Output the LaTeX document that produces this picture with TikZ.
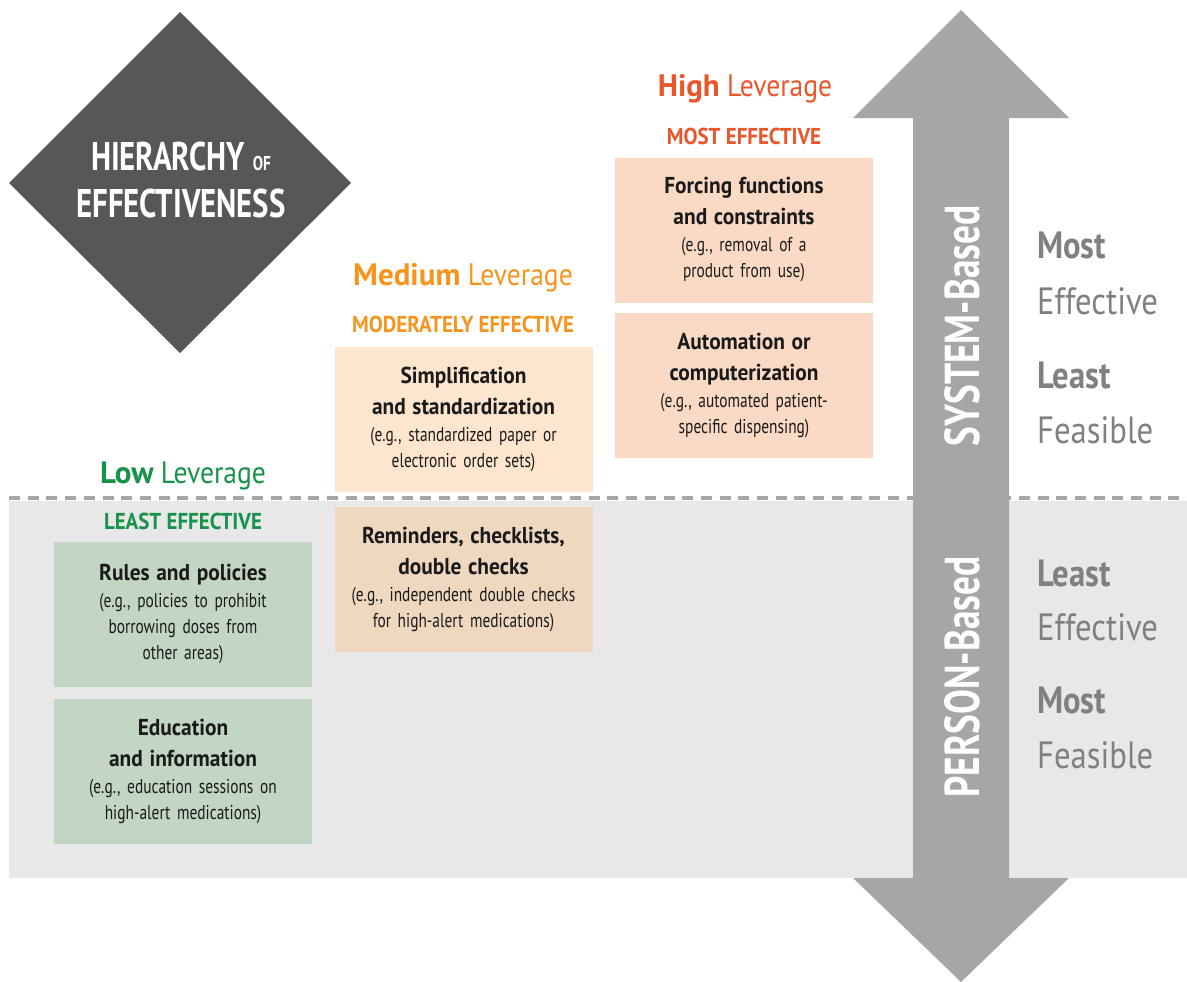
\documentclass[tikz,border=0pt]{standalone}
\usepackage{fontspec}
\setmainfont{PT Sans}[FakeStretch=0.77]
\newfontfamily\fR{PT Sans}[FakeStretch=0.77]
\newfontfamily\fB{PT Sans}[FakeStretch=0.93]
\newfontfamily\fE{PT Sans}[FakeStretch=0.91]
\newfontfamily\fH{PT Sans}[FakeStretch=1.0]
\newfontfamily\fL{PT Sans}[FakeStretch=0.89]
\newfontfamily\fV{PT Sans}[FakeStretch=0.76]
\newfontfamily\fS{PT Sans}[FakeStretch=0.86]
\definecolor{diam}{HTML}{575757}
\definecolor{hiC}{HTML}{E8562A}
\definecolor{medC}{HTML}{F7941D}
\definecolor{lowC}{HTML}{17924A}
\definecolor{peach}{HTML}{FAD9C5}
\definecolor{cream}{HTML}{FEE5CE}
\definecolor{tan}{HTML}{EFD7C0}
\definecolor{sage}{HTML}{C3D5C3}
\definecolor{bgG}{HTML}{E8E8E8}
\definecolor{arrC}{HTML}{A6A6A6}
\definecolor{lblC}{HTML}{808080}
\definecolor{txtC}{HTML}{1A1A1A}
\tikzset{
  card/.style={minimum width=258pt, minimum height=145pt, inner xsep=4pt, inner ysep=0pt,
    text width=250pt, align=center, text=txtC, font=\fR\fontsize{20}{26}\selectfont},
  lev/.style={anchor=base, inner sep=0pt, font=\fL\fontsize{31}{32}\selectfont},
  eff/.style={anchor=base, inner sep=0pt, font=\fE\bfseries\fontsize{23}{24}\selectfont},
  side/.style={anchor=base west, inner sep=0pt, text=lblC},
  sideB/.style={side, font=\fS\bfseries\fontsize{38}{40}\selectfont},
  sideR/.style={side, font=\fS\fontsize{38}{40}\selectfont},
  vert/.style={rotate=90, inner sep=0pt, text=white, font=\fV\bfseries\fontsize{49}{50}\selectfont}
}
\newcommand\ttl[1]{{\fB\bfseries\fontsize{23}{26}\selectfont #1}}
\begin{document}
\begin{tikzpicture}[x=1pt,y=-1pt]
\useasboundingbox (0,0) rectangle (1187,982);
% background of person-based zone
\fill[bgG] (9,501) rectangle (1187,878);
\draw[arrC, line width=4pt, dash pattern=on 11pt off 7.7pt] (9,498) -- (1187,498);
% diamond
\fill[diam] (180,12) -- (351,183) -- (180,353) -- (9,183) -- cycle;
\node[text=white, align=center, inner sep=0pt, font=\fR\bfseries\fontsize{40}{47}\selectfont] (hier) at (181,180)
  {HIERARCHY {\fontsize{20}{20}\selectfont OF}\\EFFECTIVENESS};
% double arrow
\fill[arrC] (913,118) -- (853,118) -- (961,10) -- (1069,118) -- (1009,118) -- (1009,878)
  -- (1069,878) -- (961,982) -- (853,878) -- (913,878) -- cycle;
\node[vert] (sys) at (962,326) {SYSTEM-Based};
\node[vert] (per) at (962,677) {PERSON-Based};
% side labels
\node[sideB] (s1) at (1037,258) {Most};
\node[sideR] (s2) at (1037,314) {Effective};
\node[sideB] (s3) at (1037,388) {Least};
\node[sideR] (s4) at (1037,443) {Feasible};
\node[sideB] (p1) at (1037,586) {Least};
\node[sideR] (p2) at (1037,640) {Effective};
\node[sideB] (p3) at (1037,713) {Most};
\node[sideR] (p4) at (1037,768) {Feasible};
% headings
\node[lev, text=hiC] (hl) at (745,96) {{\fH\bfseries High} Leverage};
\node[eff, text=hiC] (he) at (744,144) {MOST EFFECTIVE};
\node[lev, text=medC] (ml) at (463,285) {{\fH\bfseries Medium} Leverage};
\node[eff, text=medC] (me) at (463,332) {MODERATELY EFFECTIVE};
\node[lev, text=lowC] (ll) at (183,483) {{\fH\bfseries Low} Leverage};
\node[eff, text=lowC] (le) at (183,529) {LEAST EFFECTIVE};
% cards
\node[card, fill=peach] (forcing) at (744,230)
  {\ttl{Forcing functions}\\[5pt]\ttl{and constraints}\\[1pt](e.g., removal of a\\product from use)};
\node[card, fill=peach] (auto) at (744,385.5)
  {\ttl{Automation or}\\[5pt]\ttl{computerization}\\[1pt](e.g., automated patient-\\specific dispensing)};
\node[card, fill=cream] (simp) at (463.5,419)
  {\ttl{Simplification}\\[5pt]\ttl{and standardization}\\[1pt](e.g., standardized paper or\\electronic order sets)};
\node[card, fill=tan] (remind) at (463.5,579.5)
  {\ttl{Reminders, checklists,}\\[5pt]\ttl{double checks}\\[1pt](e.g., independent double checks\\for high-alert medications)};
\node[card, fill=sage] (rules) at (183,614.5)
  {\ttl{Rules and policies}\\[1pt](e.g., policies to prohibit\\borrowing doses from\\other areas)};
\node[card, fill=sage] (edu) at (183,771.5)
  {\ttl{Education}\\[5pt]\ttl{and information}\\[1pt](e.g., education sessions on\\high-alert medications)};
\end{tikzpicture}
\end{document}
